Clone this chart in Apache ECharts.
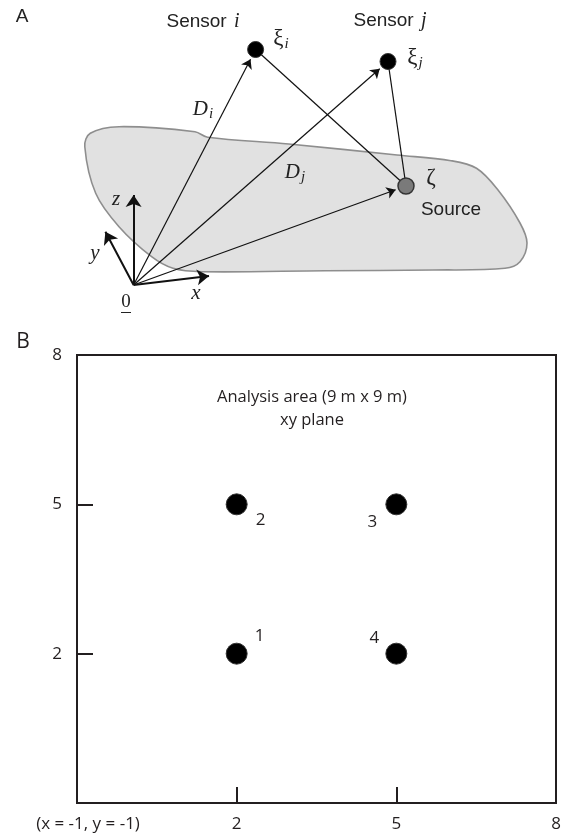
<!DOCTYPE html>
<html><head><meta charset="utf-8">
<script src="https://cdn.jsdelivr.net/npm/echarts@6/dist/echarts.min.js"></script>
<style>html,body{margin:0;padding:0;background:#fff}#c{width:564px;height:838px}</style>
</head><body><div id="c"></div>
<script>
// ---------- Panel B data (metres, xy plane) ----------
const sensorIds = ['1', '2', '3', '4'];
const sensorX = [2, 2, 5, 5];
const sensorY = [2, 5, 5, 2];
const xTickLabels = { '-1': '(x = -1, y = -1)', '2': '2', '5': '5', '8': '8' };
const yTickLabels = { '2': '2', '5': '5', '8': '8' };
const areaTitle = ['Analysis area (9 m x 9 m)', 'xy plane'];

// ---------- Panel A schematic (diagram units) ----------
const pointNames = ['Sensor i', 'Sensor j', 'Source', 'Origin'];
const pointX = [255.6, 388, 406, 133.6];
const pointY = [49.5, 61.5, 186, 285];
const axisNames = ['x', 'y', 'z'];
const axisTipX = [209, 105.4, 133.6];
const axisTipY = [276, 231.7, 195];
const blobX = [84.8, 90.3, 119, 195, 207.6, 288.8, 397, 451, 476.5, 498, 520, 527, 520, 505, 433, 325, 202, 173, 151.6, 119, 95.7];
const blobY = [146.7, 133.3, 126.7, 131.7, 137.3, 144, 155, 160.7, 168.3, 190, 223, 243, 261.7, 268.3, 270, 270.7, 271.7, 268.3, 256.7, 226.7, 193.3];
const annoText = ['{r|Sensor }{si|i}', '{r|Sensor }{si|j}', '{g|ξ}{sub|i}', '{g|ξ}{sub|j}', '{it|D}{sub|i}', '{it|D}{sub|j}', '{g|ζ}', '{r|Source}', '{it|z}', '{it|y}', '{it|x}', '{n|0}'];
const annoX = [203, 390, 281, 415, 203, 295, 431, 451, 116, 95, 196, 126];
const annoY = [22, 21, 39, 58, 109, 172, 178, 210, 199, 253, 293, 302];

const ink = '#231f20';
const chart = echarts.init(document.getElementById('c'));

const P = i => [pointX[i], pointY[i]];
function shorten(a, b, r) {
  const dx = b[0] - a[0], dy = b[1] - a[1], L = Math.hypot(dx, dy);
  return [b[0] - dx / L * r, b[1] - dy / L * r];
}
const origin = P(3);
const vectors = [0, 1, 2].map(i => ({ coords: [origin, shorten(origin, P(i), 11)] }));
const segments = [0, 1].map(i => ({ coords: [P(i), shorten(P(i), P(2), 7)] }));
const axesArrows = axisNames.map((n, i) => ({ coords: [origin, [axisTipX[i], axisTipY[i]]] }));
const underline = [{ coords: [[annoX[11] - 5, annoY[11] + 10], [annoX[11] + 5, annoY[11] + 10]] }];

const labelOffsets = [[23, -18], [24, 16], [-24, 18], [-22, -16]];

const gA = { xAxisIndex: 1, yAxisIndex: 1, coordinateSystem: 'cartesian2d' };

chart.setOption({
  animation: false,
  backgroundColor: '#fff',
  grid: [
    { left: 77, top: 355, width: 479, height: 448, show: true, borderColor: ink, borderWidth: 2, containLabel: false },
    { left: 0, top: 0, width: 564, height: 320, show: false }
  ],
  xAxis: [
    {
      type: 'value', gridIndex: 0, min: -1, max: 8, interval: 3,
      axisLine: { show: true, onZero: false, lineStyle: { color: ink, width: 2 } },
      axisTick: { show: true, inside: true, length: 16, lineStyle: { color: ink, width: 2 } },
      splitLine: { show: false },
      axisLabel: {
        margin: 13, color: ink, fontFamily: 'Open Sans', fontSize: 17,
        showMinLabel: true, showMaxLabel: true,
        formatter: v => v === -1 ? '{o|' + xTickLabels[String(v)] + '}' : (xTickLabels[String(v)] || ''),
        rich: { o: { fontFamily: 'Open Sans', fontSize: 17, color: ink, padding: [0, 0, 0, 22] } }
      }
    },
    { type: 'value', gridIndex: 1, min: 0, max: 564, show: false }
  ],
  yAxis: [
    {
      type: 'value', gridIndex: 0, min: -1, max: 8, interval: 3,
      axisLine: { show: true, onZero: false, lineStyle: { color: ink, width: 2 } },
      axisTick: { show: true, inside: true, length: 16, lineStyle: { color: ink, width: 2 } },
      splitLine: { show: false },
      axisLabel: {
        margin: 15, color: ink, fontFamily: 'Open Sans', fontSize: 17,
        showMinLabel: true, showMaxLabel: true,
        formatter: v => yTickLabels[String(v)] || ''
      }
    },
    { type: 'value', gridIndex: 1, min: 0, max: 320, inverse: true, show: false }
  ],
  graphic: [
    { type: 'text', x: 22, y: 17, style: { text: 'A', fill: '#222', font: '19px "Liberation Sans"', textAlign: 'center', textVerticalAlign: 'middle' } },
    { type: 'text', x: 23, y: 342, style: { text: 'B', fill: ink, font: '21px "Open Sans"', textAlign: 'center', textVerticalAlign: 'middle' } },
    { type: 'text', x: 312, y: 409, style: { text: areaTitle.join('\n'), fill: ink, font: '16.5px "Open Sans"', lineHeight: 23, textAlign: 'center', textVerticalAlign: 'middle' } }
  ],
  series: [
    // Panel B sensors
    {
      type: 'scatter', xAxisIndex: 0, yAxisIndex: 0, symbolSize: 21, z: 5,
      itemStyle: { color: '#000', borderColor: '#333', borderWidth: 1, opacity: 1 },
      data: sensorX.map((x, i) => ({ value: [x, sensorY[i]], name: sensorIds[i], label: { offset: labelOffsets[i] } })),
      label: { show: true, position: 'inside', formatter: p => p.name, color: ink, opacity: 1, fontFamily: 'Open Sans', fontSize: 17 }
    },
    // Panel A blob
    {
      type: 'custom', ...gA, z: 1, silent: true,
      data: [[0, 0]],
      renderItem: (params, api) => {
        const pts = blobX.map((x, i) => api.coord([x, blobY[i]]));
        return { type: 'polygon', shape: { points: pts, smooth: 0.35 }, style: { fill: '#e1e1e1', stroke: '#8e8e8e', lineWidth: 1.6 } };
      }
    },
    // vectors from origin
    {
      type: 'lines', ...gA, z: 2, symbol: ['none', 'arrow'], symbolSize: 9,
      lineStyle: { color: '#111', width: 1.2, opacity: 1 }, data: vectors
    },
    {
      type: 'lines', ...gA, z: 2, symbol: ['none', 'none'],
      lineStyle: { color: '#111', width: 1.2, opacity: 1 }, data: segments
    },
    {
      type: 'lines', ...gA, z: 2, symbol: ['none', 'arrow'], symbolSize: 12,
      lineStyle: { color: '#111', width: 2, opacity: 1 }, data: axesArrows
    },
    {
      type: 'lines', ...gA, z: 2, symbol: ['none', 'none'],
      lineStyle: { color: '#222', width: 1, opacity: 1 }, data: underline
    },
    // points
    {
      type: 'scatter', ...gA, z: 3, symbolSize: 16,
      data: [0, 1, 2].map(i => ({
        value: P(i), name: pointNames[i],
        itemStyle: i === 2 ? { color: '#7a7a7a', borderColor: '#333', borderWidth: 1.5, opacity: 1 } : { color: '#000', borderColor: '#333', borderWidth: 1, opacity: 1 }
      }))
    },
    // annotations
    {
      type: 'scatter', ...gA, z: 4, symbolSize: 1, itemStyle: { color: 'rgba(0,0,0,0)', opacity: 1 }, silent: true,
      data: annoX.map((x, i) => [x, annoY[i]]),
      label: {
        show: true, position: 'inside', opacity: 1, formatter: p => annoText[p.dataIndex],
        rich: {
          r: { fontFamily: 'Liberation Sans', fontSize: 19, color: '#222' },
          si: { fontFamily: 'Liberation Serif', fontStyle: 'italic', fontSize: 20, color: '#222', padding: [0, 0, 0, 2] },
          it: { fontFamily: 'Liberation Serif', fontStyle: 'italic', fontSize: 21, color: '#222' },
          g: { fontFamily: 'Liberation Serif', fontSize: 23, color: '#222' },
          sub: { fontFamily: 'Liberation Serif', fontStyle: 'italic', fontSize: 15, color: '#222', padding: [10, 0, 0, 1] },
          n: { fontFamily: 'Liberation Serif', fontSize: 19, color: '#222' }
        }
      }
    }
  ]
});
</script></body></html>
